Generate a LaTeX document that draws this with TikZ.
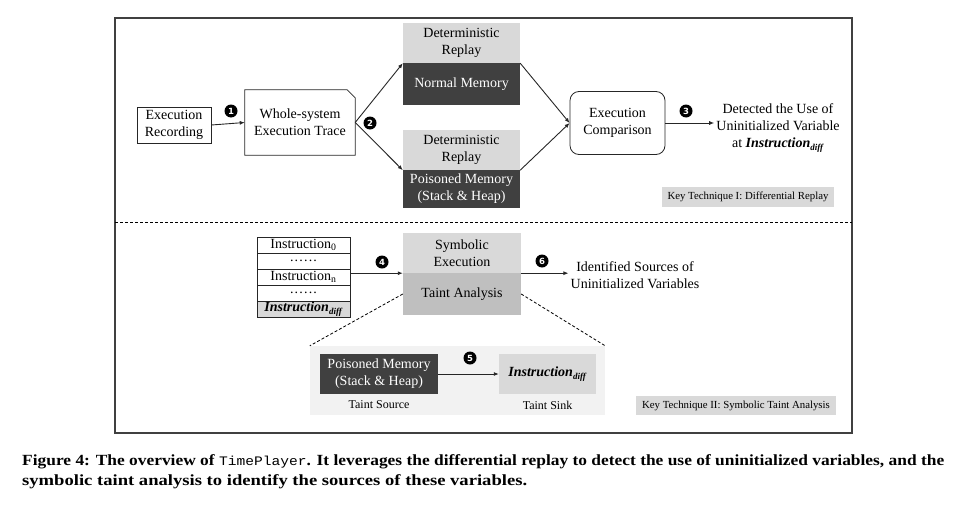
\documentclass[tikz,border=0pt]{standalone}
\usepackage{fontspec}
\usepackage{graphicx}
\setmainfont{Liberation Serif}
\setmonofont{Liberation Mono}
\newfontfamily\numfont{DejaVu Sans}
\usetikzlibrary{arrows.meta}
\definecolor{lg}{HTML}{D9D9D9}
\definecolor{dg}{HTML}{404040}
\definecolor{mg}{HTML}{BFBFBF}
\definecolor{pg}{HTML}{F2F2F2}
\tikzset{
  txt/.style={font=\fontsize{14}{17}\selectfont, inner sep=0pt, align=center},
  smalltxt/.style={font=\fontsize{10.8}{12}\selectfont, inner sep=0pt, align=center},
  lbltxt/.style={font=\fontsize{12}{13}\selectfont, inner sep=0pt, align=center},
  lightbox/.style={txt, fill=lg},
  darkbox/.style={txt, fill=dg, text=white},
  midbox/.style={txt, fill=mg},
  plainbox/.style={txt, draw=black!85, line width=0.8pt},
  stackrow/.style={txt, draw=black!85, line width=0.8pt, minimum width=93pt, minimum height=16pt},
  keybox/.style={smalltxt, fill=lg},
  numc/.style={circle, fill=black, text=white, inner sep=0pt, minimum size=13pt, font=\numfont\bfseries\fontsize{8.5}{8.5}\selectfont},
  arr/.style={-{Latex[length=5pt,width=4pt]}, line width=0.9pt, draw=black!85},
  zoomline/.style={dashed, dash pattern=on 3pt off 2pt, line width=0.8pt},
  captxt/.style={anchor=base west, inner sep=0pt, font=\fontsize{15.5}{18}\selectfont\bfseries},
}
\newcommand{\mydots}{.\kern1.2pt.\kern1.2pt.\kern1.2pt.\kern1.2pt.\kern1.2pt.}
\newcommand{\idiff}{\textbf{\textit{Instruction}}\raisebox{-2.5pt}{\fontsize{9}{9}\selectfont\textbf{\textit{diff}}}}
\begin{document}
\begin{tikzpicture}[x=1pt,y=-1pt]
\useasboundingbox (0,0) rectangle (958,506);
% frame
\node[draw=dg, line width=1.2pt, minimum width=737pt, minimum height=415pt, inner sep=0pt] (frame) at (483.5,225.5) {};
\coordinate (sepL) at (115,222);
\coordinate (sepR) at (852,222);
\draw[zoomline] (sepL) -- (sepR);

% upper part
\node[plainbox, minimum width=74pt, minimum height=36pt] (rec) at (174,125) {Execution\\Recording};
\node[txt, minimum width=110pt, minimum height=65pt] (ws) at (300,122.5) {Whole-system\\Execution Trace};
\draw[draw=black!85, line width=0.8pt] (ws.south west) -- (ws.north west) -- ([xshift=-8pt]ws.north east) -- ([yshift=-8pt]ws.north east) -- (ws.south east) -- cycle;

\node[lightbox, minimum width=117pt, minimum height=40pt] (dr1) at (461.5,43) {Deterministic\\Replay};
\node[darkbox, minimum width=117pt, minimum height=42pt] (nm) at (461.5,84) {Normal Memory};
\node[lightbox, minimum width=117pt, minimum height=40pt] (dr2) at (461.5,150) {Deterministic\\Replay};
\node[darkbox, minimum width=117pt, minimum height=38pt] (pm) at (461.5,189) {Poisoned Memory\\(Stack \& Heap)};

\node[txt, draw=black!85, line width=0.8pt, rounded corners=9pt, minimum width=95pt, minimum height=63pt] (cmp) at (617.5,123) {Execution\\Comparison};
\node[txt] (det) at (778,128) {Detected the Use of\\Uninitialized Variable\\at \idiff};
\node[keybox, minimum width=172pt, minimum height=20pt] (key1) at (748,197) {Key Technique I: Differential Replay};

\draw[arr] (rec.east) -- (ws.west);
\draw[arr] (ws.east) -- (dr1.south west);
\draw[arr] (ws.east) -- (dr2.south west);
\draw[arr] (dr1.south east) -- (cmp.west);
\draw[arr] (dr2.south east) -- (cmp.west);
\draw[arr] (cmp.east) -- ([xshift=-2pt]det.west |- cmp.east);

\node[numc] (n1) at (231,111) {1};
\node[numc] (n2) at (370,123) {2};
\node[numc] (n3) at (686,111) {3};

% lower part
\node[stackrow] (s0) at (303.5,245) {Instruction\textsubscript{0}};
\node[stackrow] (s1) at (303.5,261) {\mydots};
\node[stackrow] (s2) at (303.5,277) {Instruction\textsubscript{n}};
\node[stackrow] (s3) at (303.5,293) {\mydots};
\node[stackrow, fill=lg] (s4) at (303.5,309) {\idiff};

\node[lightbox, minimum width=118pt, minimum height=40pt] (sym) at (462,253) {Symbolic\\Execution};
\node[midbox, minimum width=118pt, minimum height=42pt] (taint) at (462,294) {Taint Analysis};
\node[txt] (ident) at (635,275) {Identified Sources of\\Uninitialized Variables};

\draw[arr] (s2.east |- sym.south west) -- (sym.south west);
\draw[arr] (sym.south east) -- ([xshift=-2pt]ident.west |- sym.south east);
\node[numc] (n4) at (382,262) {4};
\node[numc] (n6) at (542,261) {6};

\node[fill=pg, minimum width=295pt, minimum height=69pt, inner sep=0pt] (zoom) at (457.5,380.5) {};
\draw[zoomline] (taint.west) -- (zoom.north west);
\draw[zoomline] (taint.east) -- (zoom.north east);

\node[darkbox, minimum width=118pt, minimum height=40pt] (src) at (379,374) {Poisoned Memory\\(Stack \& Heap)};
\node[lightbox, minimum width=97pt, minimum height=40pt] (sink) at (547.5,374) {\idiff};
\node[lbltxt] (srcl) at (379,405) {Taint Source};
\node[lbltxt] (sinkl) at (547.5,405) {Taint Sink};
\draw[arr] (src.east) -- (sink.west);
\node[numc] (n5) at (470,358) {5};

\node[keybox, minimum width=200pt, minimum height=19pt] (key2) at (736,405.5) {Key Technique II: Symbolic Taint Analysis};

% caption
\node[captxt] (cap1) at (22,465) {\resizebox{922pt}{\height}{Figure 4: The overview of {\mdseries\ttfamily\fontsize{13}{14}\selectfont TimePlayer}. It leverages the differential replay to detect the use of uninitialized variables, and the}};
\node[captxt] (cap2) at (22,485) {\resizebox{505pt}{\height}{symbolic taint analysis to identify the sources of these variables.}};
\end{tikzpicture}
\end{document}
